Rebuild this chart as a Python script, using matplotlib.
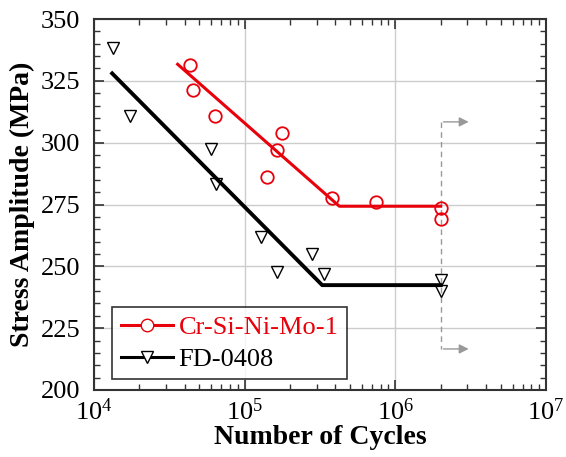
import numpy as np
import matplotlib
matplotlib.use('Agg')
import matplotlib.pyplot as plt
from matplotlib.ticker import LogLocator, MultipleLocator, NullFormatter

plt.rcParams['font.family'] = ['Liberation Serif', 'DejaVu Serif']
plt.rcParams['mathtext.fontset'] = 'stix'

# Cr-Si-Ni-Mo-1 test points
crsi_cycles = [43400, 45400, 63500, 177000, 163000, 141000, 377000, 740000, 2.0e6, 2.0e6]
crsi_stress = [331.4, 321.3, 310.8, 303.9, 297.0, 286.0, 277.7, 275.9, 273.5, 269.0]
# Cr-Si-Ni-Mo-1 fit line
crsi_fit_cycles = [35900, 425000, 2.0e6]
crsi_fit_stress = [331.7, 274.3, 274.3]

# FD-0408 test points
fd_cycles = [13400, 17400, 59400, 64100, 128000, 163000, 278000, 337000, 2.0e6, 2.0e6]
fd_stress = [338.2, 310.9, 297.3, 283.3, 262.0, 247.7, 255.0, 246.9, 244.5, 240.1]
# FD-0408 fit line
fd_fit_cycles = [13200, 327000, 2.0e6]
fd_fit_stress = [328.0, 242.4, 242.4]

# runout marker
runout_x = 2.0e6
runout_top = 308.4
runout_bot = 216.6
runout_arrow_end = 3.2e6

fig = plt.figure(figsize=(5.66, 4.57), dpi=100)
ax = fig.add_axes([94/566, (457-390)/457, 452/566, 371/457])

red = '#e8000b'
ax.plot(crsi_fit_cycles, crsi_fit_stress, color=red, lw=2.2, zorder=3)
ax.plot(crsi_cycles, crsi_stress, 'o', mfc='none', mec=red, ms=9, mew=1.3, zorder=4)
ax.plot(fd_fit_cycles, fd_fit_stress, color='black', lw=2.8, zorder=3)
ax.plot(fd_cycles, fd_stress, 'v', mfc='none', mec='black', ms=9, mew=1.0, zorder=4)

# legend proxies
h1, = ax.plot([], [], '-o', color=red, mfc='white', mec=red, ms=9, lw=2.2, label='Cr-Si-Ni-Mo-1')
h2, = ax.plot([], [], '-v', color='black', mfc='white', mec='black', ms=9, lw=2.2, label='FD-0408')

# runout arrows
ax.plot([runout_x, runout_x], [runout_top, runout_bot], ls=(0, (4, 3)), color='#999999', lw=1.0, zorder=2)
for yy in (runout_top, runout_bot):
    ax.annotate('', xy=(runout_arrow_end, yy), xytext=(runout_x, yy),
                arrowprops=dict(arrowstyle='-|>', color='#999999', lw=1.0, mutation_scale=14))

ax.set_xscale('log')
ax.set_xlim(1e4, 1e7)
ax.set_ylim(200, 350)
ax.yaxis.set_major_locator(MultipleLocator(25))
ax.yaxis.set_minor_locator(MultipleLocator(5))
ax.xaxis.set_major_locator(LogLocator(base=10, numticks=10))
ax.xaxis.set_minor_locator(LogLocator(base=10, subs=np.arange(2, 10), numticks=20))
ax.xaxis.set_minor_formatter(NullFormatter())

ax.grid(True, which='major', color='#cccccc', lw=1.0)
ax.set_axisbelow(True)
ax.tick_params(which='both', direction='in', top=True, right=True, labelsize=19, color='#333333')
ax.tick_params(which='major', length=7, width=1.2)
ax.tick_params(which='minor', length=4, width=1.0)
ax.tick_params(axis='x', pad=6)
ax.tick_params(axis='y', pad=10)
for s in ax.spines.values():
    s.set_color('#333333')
    s.set_linewidth(1.5)

ax.set_xlabel('Number of Cycles', fontsize=20, fontweight='bold', labelpad=0)
ax.set_ylabel('Stress Amplitude (MPa)', fontsize=20, fontweight='bold', labelpad=4)

leg = ax.legend(handles=[h1, h2], loc='lower left', bbox_to_anchor=(0.04, 0.029),
                fontsize=19, frameon=True, fancybox=False, edgecolor='black',
                borderpad=0.32, handlelength=2.0, handletextpad=0.2, labelspacing=0.32,
                borderaxespad=0, numpoints=1)
leg.get_frame().set_linewidth(1.2)
leg.get_texts()[0].set_color(red)

fig.savefig('out.png', dpi=100)
